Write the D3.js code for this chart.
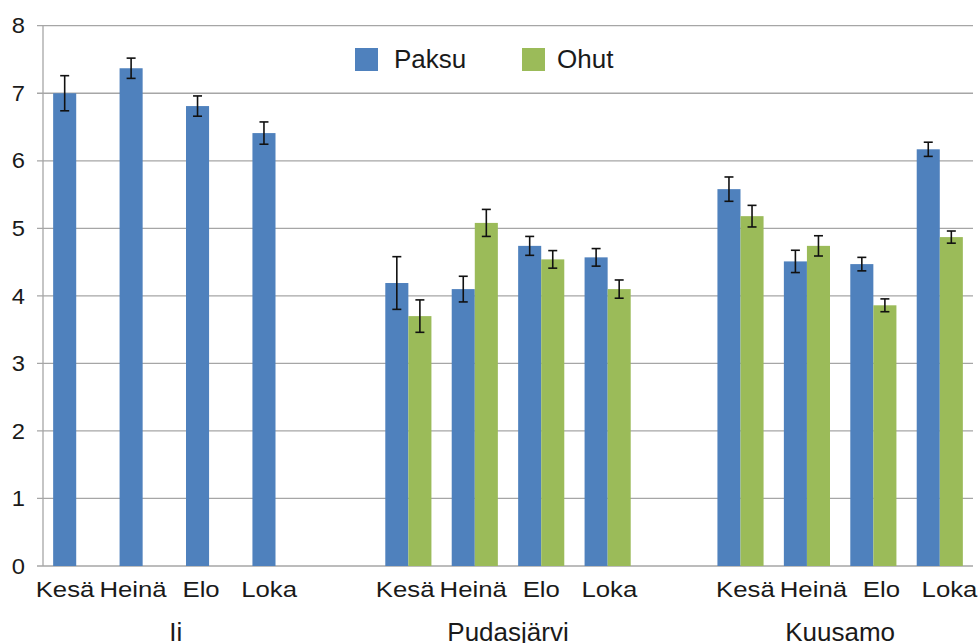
<!DOCTYPE html>
<html>
<head>
<meta charset="utf-8">
<script src="https://cdn.jsdelivr.net/npm/d3@7"></script>
<style>
  body { margin: 0; background: #fff; }
  text { font-family: "Liberation Sans", Arial, sans-serif; fill: #1a1a1a; }
</style>
</head>
<body>
<div id="chart"></div>
<script>
const groups = ['Ii', 'Pudasjärvi', 'Kuusamo'];
const months = ['Kesä', 'Heinä', 'Elo', 'Loka'];
const seriesNames = ['Paksu', 'Ohut'];
const paksu    = [7.00, 7.37, 6.81, 6.41, 4.19, 4.10, 4.74, 4.57, 5.58, 4.51, 4.47, 6.17];
const paksuErr = [0.26, 0.15, 0.15, 0.165, 0.39, 0.19, 0.14, 0.13, 0.18, 0.165, 0.10, 0.105];
const ohut     = [null, null, null, null, 3.70, 5.08, 4.54, 4.10, 5.18, 4.74, 3.86, 4.87];
const ohutErr  = [null, null, null, null, 0.24, 0.20, 0.13, 0.135, 0.16, 0.15, 0.095, 0.09];
const yTicks = [0, 1, 2, 3, 4, 5, 6, 7, 8];

const colors = { Paksu: '#4f81bd', Ohut: '#9bbb59' };
const width = 979, height = 643;

// category slots: months of each group, with one empty slot between groups
const slots = [];
groups.forEach((g, gi) => {
  months.forEach(m => slots.push(g + '|' + m));
  if (gi < groups.length - 1) slots.push('gap' + gi);
});

const rows = [];
groups.forEach((g, gi) => {
  months.forEach((m, mi) => {
    const i = gi * months.length + mi;
    rows.push({ key: g + '|' + m, series: 'Paksu', value: paksu[i], err: paksuErr[i] });
    if (ohut[i] != null)
      rows.push({ key: g + '|' + m, series: 'Ohut', value: ohut[i], err: ohutErr[i] });
  });
});

const svg = d3.select('#chart').append('svg')
  .attr('width', width).attr('height', height);

const x = d3.scaleBand().domain(slots).range([43, 973]);
const xs = d3.scaleBand().domain(seriesNames).range([0, x.bandwidth()]).paddingOuter(0.44);
const y = d3.scaleLinear().domain([0, 8]).range([566, 25.7]);
// label positions as laid out in the original picture
const xLabel = d3.scalePoint().domain(slots).range([65, 949.5]);

// gridlines
svg.append('g')
  .selectAll('line')
  .data(yTicks)
  .enter()
  .append('line')
    .attr('x1', 37).attr('x2', 973)
    .attr('y1', d => y(d)).attr('y2', d => y(d))
    .attr('stroke', '#a6a6a6').attr('stroke-width', 1.3)

// y axis line
svg.append('line')
  .attr('x1', 43).attr('x2', 43)
  .attr('y1', y(8)).attr('y2', y(0))
  .attr('stroke', '#a6a6a6').attr('stroke-width', 1.3)

// y tick labels
svg.append('g')
  .selectAll('text')
  .data(yTicks)
  .enter()
  .append('text')
    .attr('transform', d => 'translate(25,' + y(d) + ') scale(1.08,1)')
    .attr('dy', '0.35em')
    .attr('text-anchor', 'end')
    .style('font-size', '22px')
    .text(d => d)

// bars
svg.append('g')
  .selectAll('rect')
  .data(rows)
  .enter()
  .append('rect')
    .attr('x', d => x(d.key) + xs(d.series))
    .attr('y', d => y(d.value))
    .attr('width', xs.bandwidth())
    .attr('height', d => y(0) - y(d.value))
    .attr('fill', d => colors[d.series])

// error bars
const eb = svg.append('g')
  .selectAll('g')
  .data(rows)
  .enter()
  .append('g')
    .attr('stroke', '#111')
    .attr('stroke-width', 1.6)
eb.append('line')
  .attr('x1', d => x(d.key) + xs(d.series) + xs.bandwidth() / 2)
  .attr('x2', d => x(d.key) + xs(d.series) + xs.bandwidth() / 2)
  .attr('y1', d => y(d.value + d.err))
  .attr('y2', d => y(d.value - d.err))
eb.selectAll('line.cap')
  .data(d => [d.value + d.err, d.value - d.err].map(v => ({ d: d, v: v })))
  .enter()
  .append('line')
    .attr('class', 'cap')
    .attr('x1', c => x(c.d.key) + xs(c.d.series) + xs.bandwidth() / 2 - 4.5)
    .attr('x2', c => x(c.d.key) + xs(c.d.series) + xs.bandwidth() / 2 + 4.5)
    .attr('y1', c => y(c.v))
    .attr('y2', c => y(c.v))

// month labels
svg.append('g')
  .selectAll('text')
  .data(slots.filter(s => s.indexOf('|') > 0))
  .enter()
  .append('text')
    .attr('transform', d => 'translate(' + xLabel(d) + ',597) scale(1.12,1)')
    .attr('text-anchor', 'middle')
    .style('font-size', '23px')
    .text(d => d.split('|')[1])

// group labels
svg.append('g')
  .selectAll('text')
  .data(groups)
  .enter()
  .append('text')
    .attr('x', g => (x(g + '|' + months[0]) + x(g + '|' + months[months.length - 1]) + x.bandwidth()) / 2)
    .attr('y', 641)
    .attr('text-anchor', 'middle')
    .style('font-size', '26px')
    .text(g => g)

// legend
const legendX = { Paksu: 355, Ohut: 522 };
const lg = svg.append('g')
  .selectAll('g')
  .data(seriesNames)
  .enter()
  .append('g')
    .attr('transform', d => 'translate(' + legendX[d] + ',48)')
lg.append('rect')
  .attr('width', 23).attr('height', 23)
  .attr('fill', d => colors[d])
lg.append('text')
  .attr('x', d => d == 'Paksu' ? 39 : 35)
  .attr('y', 20)
  .style('font-size', '26px')
  .text(d => d)
</script>
</body>
</html>
